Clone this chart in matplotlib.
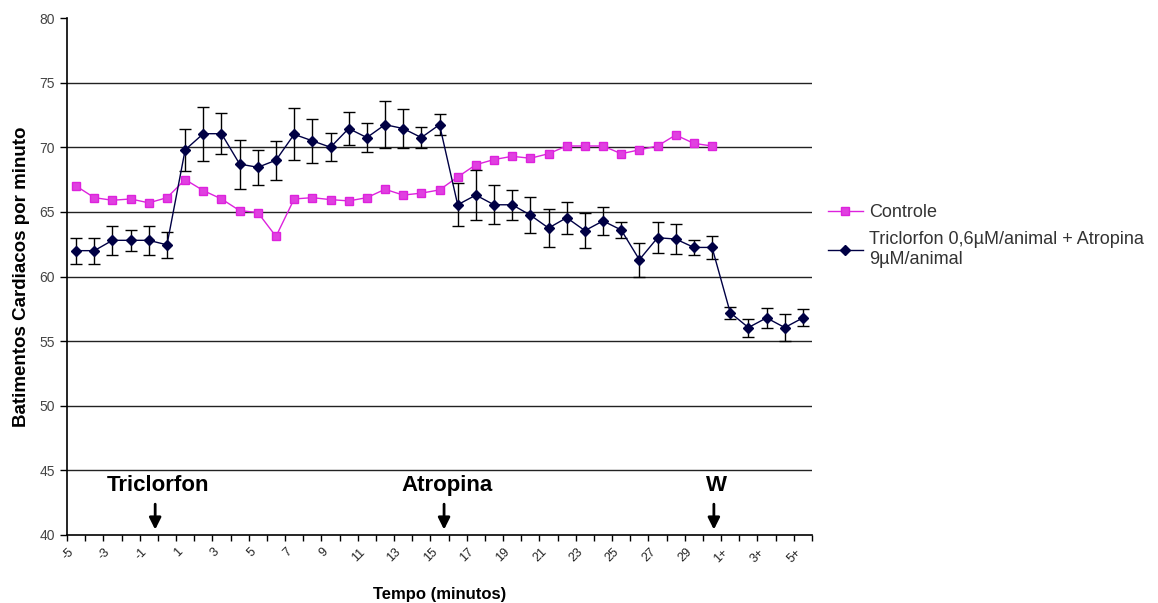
import matplotlib.pyplot as plt
import numpy as np

# Heart rate per minute over time: control vs. Triclorfon + Atropina
categories = [str(m) for m in range(-5, 31)] + ['1+', '2+', '3+', '4+', '5+']

controle = [67.0, 66.1, 65.9, 66.0, 65.7, 66.1, 67.5, 66.65, 66.0, 65.1,
            64.95, 63.1, 66.0, 66.1, 65.95, 65.85, 66.1, 66.75, 66.3, 66.45,
            66.7, 67.7, 68.65, 69.05, 69.3, 69.15, 69.5, 70.1, 70.1, 70.1,
            69.5, 69.8, 70.1, 70.95, 70.3, 70.1]

tratado = [62.0, 62.0, 62.8, 62.8, 62.8, 62.45, 69.8, 71.05, 71.05, 68.7,
           68.45, 69.0, 71.0, 70.5, 70.0, 71.45, 70.75, 71.75, 71.45, 70.75,
           71.75, 65.55, 66.3, 65.55, 65.55, 64.75, 63.75, 64.55, 63.55, 64.3,
           63.6, 61.3, 63.0, 62.9, 62.25, 62.25, 57.2, 56.05, 56.8, 56.05,
           56.8]
tratado_err = [1.0, 1.0, 1.1, 0.8, 1.1, 1.0, 1.6, 2.1, 1.6, 1.9,
               1.35, 1.5, 2.0, 1.7, 1.1, 1.3, 1.1, 1.8, 1.5, 0.8,
               0.8, 1.65, 1.95, 1.5, 1.15, 1.4, 1.5, 1.25, 1.35, 1.1,
               0.6, 1.3, 1.2, 1.15, 0.6, 0.9, 0.45, 0.7, 0.75, 1.05,
               0.65]

# where each substance was applied (category position)
eventos = ['Triclorfon', 'Atropina', 'W']
eventos_pos = [4.35, 20.25, 35.1]

plt.rcParams['font.family'] = ['Liberation Sans', 'DejaVu Sans']

fig = plt.figure(figsize=(11.58, 6.03), dpi=100)
ax = fig.add_axes([0.0579, 0.1128, 0.6433, 0.8573])

x_ctrl = np.arange(len(controle))
x_trat = np.arange(len(tratado))

l1, = ax.plot(x_ctrl, controle, color='#dd22dd', lw=1.0, marker='s', ms=6,
              mec='#dd22dd', mfc='#e040e0', zorder=3)
ax.errorbar(x_trat, tratado, yerr=tratado_err, fmt='none', ecolor='black',
            elinewidth=1.0, capsize=4, capthick=1.0, zorder=4)
l2, = ax.plot(x_trat, tratado, color='#000044', lw=1.0, marker='D', ms=5,
              zorder=5)

ax.set_xlim(-0.5, len(categories) - 0.5)
ax.set_ylim(40, 80)
ax.set_yticks(np.arange(40, 81, 5))
# slanted labels end just left of their category
ax.set_xticks(np.arange(0, len(categories), 2) - 0.45)
ax.set_xticklabels(categories[::2], rotation=45, ha='right', va='top',
                   rotation_mode='anchor', fontsize=9, color='#222222')
ax.set_xticks(np.arange(-0.5, len(categories), 1), minor=True)
ax.tick_params(axis='x', which='major', length=0, pad=8)
ax.tick_params(axis='x', which='minor', length=4, width=1, color='black')
ax.tick_params(axis='y', length=5, width=1, labelsize=10, labelcolor='#444444')

# horizontal gridlines, none at the top limit
for v in range(45, 80, 5):
    ax.axhline(v, color='#222222', lw=1.0, zorder=1)

for side in ['top', 'right']:
    ax.spines[side].set_visible(False)
for side in ['left', 'bottom']:
    ax.spines[side].set_linewidth(1.2)
    ax.spines[side].set_color('black')

ax.set_ylabel('Batimentos Cardiacos por minuto', fontsize=13.5, fontweight='bold',
              labelpad=7)
ax.set_xlabel('Tempo (minutos)', fontsize=12, fontweight='bold', labelpad=16)

for nome, pos in zip(eventos, eventos_pos):
    ax.annotate('', xy=(pos, 40.2), xytext=(pos, 42.6),
                arrowprops=dict(arrowstyle='-|>,head_width=0.35,head_length=0.7',
                                color='black', lw=2))
    ax.text(pos + 0.15, 43.8, nome, ha='center', va='center', fontsize=16,
            fontweight='bold')

fig.legend([l1, l2], ['Controle', 'Triclorfon 0,6µM/animal + Atropina\n9µM/animal'],
           loc='upper left', bbox_to_anchor=(812 / 1158, 1 - 188 / 603),
           frameon=False, fontsize=13, handlelength=1.9, handletextpad=0.35,
           labelspacing=0.55, labelcolor='#333333')

fig.savefig('out.png', dpi=100)
